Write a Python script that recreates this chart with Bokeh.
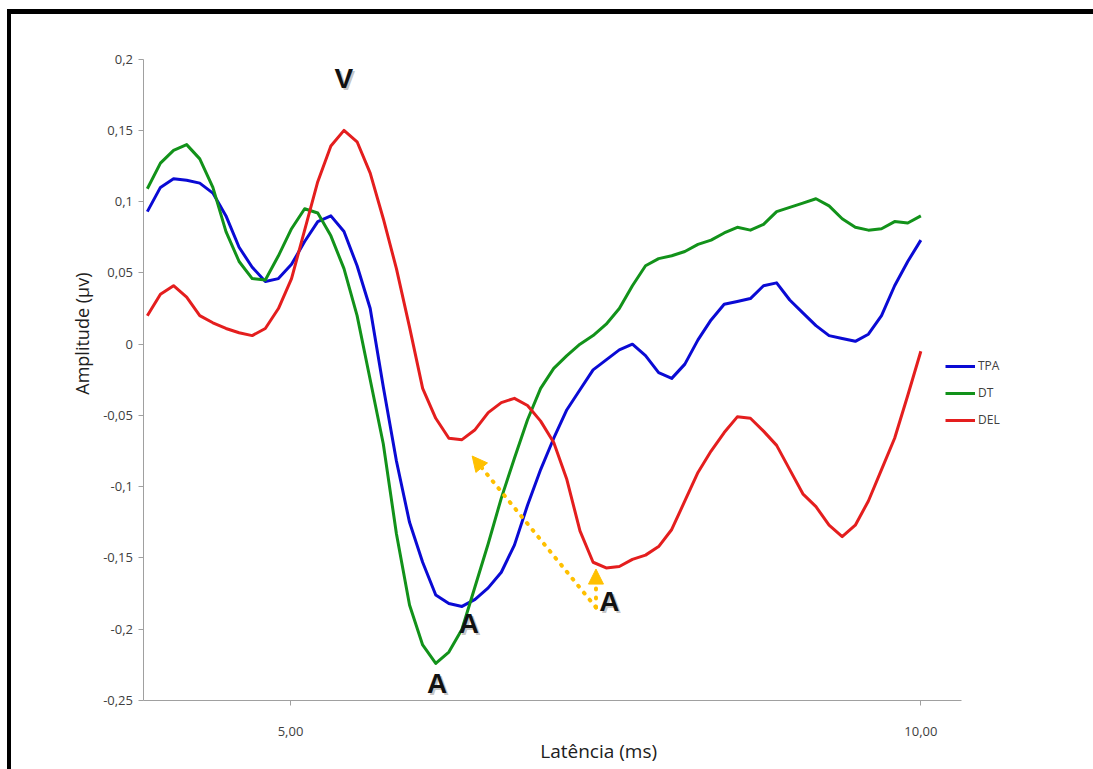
from bokeh.plotting import figure
from bokeh.models import (Range1d, FixedTicker, Legend, LegendItem, Label,
                          Arrow, NormalHead)
from bokeh.embed import file_html
from bokeh.resources import INLINE

# Latency grid (ms) and averaged amplitudes (uV) for the three groups
latency = [3.864, 3.968, 4.072, 4.176, 4.280, 4.384, 4.488, 4.592, 4.696, 4.800,
           4.904, 5.008, 5.112, 5.216, 5.320, 5.424, 5.528, 5.632, 5.736, 5.840,
           5.944, 6.048, 6.152, 6.256, 6.360, 6.464, 6.568, 6.672, 6.776, 6.880,
           6.984, 7.088, 7.192, 7.296, 7.400, 7.504, 7.608, 7.712, 7.816, 7.920,
           8.024, 8.128, 8.232, 8.336, 8.440, 8.544, 8.648, 8.752, 8.856, 8.960,
           9.064, 9.168, 9.272, 9.376, 9.480, 9.584, 9.688, 9.792, 9.896, 10.000]

tpa = [0.093, 0.110, 0.116, 0.115, 0.113, 0.106, 0.090, 0.068, 0.054, 0.044,
       0.046, 0.056, 0.072, 0.086, 0.090, 0.079, 0.055, 0.025, -0.030, -0.082,
       -0.125, -0.153, -0.176, -0.182, -0.184, -0.179, -0.171, -0.160, -0.141, -0.113,
       -0.088, -0.066, -0.046, -0.032, -0.018, -0.011, -0.004, 0.000, -0.008, -0.020,
       -0.024, -0.014, 0.003, 0.017, 0.028, 0.030, 0.032, 0.041, 0.043, 0.031,
       0.022, 0.013, 0.006, 0.004, 0.002, 0.007, 0.020, 0.041, 0.058, 0.073]

dt = [0.109, 0.127, 0.136, 0.140, 0.130, 0.110, 0.079, 0.058, 0.046, 0.045,
      0.062, 0.081, 0.095, 0.092, 0.076, 0.053, 0.020, -0.025, -0.070, -0.133,
      -0.183, -0.211, -0.224, -0.216, -0.200, -0.170, -0.140, -0.108, -0.080, -0.053,
      -0.031, -0.017, -0.008, 0.000, 0.006, 0.014, 0.025, 0.041, 0.055, 0.060,
      0.062, 0.065, 0.070, 0.073, 0.078, 0.082, 0.080, 0.084, 0.093, 0.096,
      0.099, 0.102, 0.097, 0.088, 0.082, 0.080, 0.081, 0.086, 0.085, 0.090]

dele = [0.020, 0.035, 0.041, 0.033, 0.020, 0.015, 0.011, 0.008, 0.006, 0.011,
        0.025, 0.046, 0.080, 0.114, 0.139, 0.150, 0.142, 0.120, 0.088, 0.053,
        0.012, -0.031, -0.052, -0.066, -0.067, -0.060, -0.048, -0.041, -0.038, -0.043,
        -0.054, -0.069, -0.095, -0.131, -0.153, -0.157, -0.156, -0.151, -0.148, -0.142,
        -0.130, -0.110, -0.090, -0.075, -0.062, -0.051, -0.052, -0.061, -0.071, -0.088,
        -0.105, -0.114, -0.127, -0.135, -0.127, -0.110, -0.088, -0.066, -0.036, -0.005]

series_names = ["TPA", "DT", "DEL"]
series_colors = ["#0a0ad4", "#12921a", "#e41e1e"]

x_ticks = [5, 10]
x_tick_labels = ["5,00", "10,00"]
y_ticks = [-0.25, -0.2, -0.15, -0.1, -0.05, 0, 0.05, 0.1, 0.15, 0.2]
y_tick_labels = ["-0,25", "-0,2", "-0,15", "-0,1", "-0,05", "0", "0,05", "0,1", "0,15", "0,2"]

# visible extent of the axes
x_axis_span = (3.8376, 10.326)
y_axis_span = (-0.25, 0.2)

FONT = "Open Sans"
TEXT_COLOR = "#404040"
AXIS_COLOR = "#a0a0a0"

# the frame fills the whole canvas; axes are pinned inside it so that the
# legend, titles and markers around the plot area are not clipped
p = figure(width=1086, height=760,
           x_range=Range1d(2.7866, 11.4013), y_range=Range1d(-0.30191, 0.23129),
           output_backend="svg", toolbar_location=None,
           min_border_left=0, min_border_right=0,
           min_border_top=0, min_border_bottom=0)
p.styles = {"border-top": "5px solid black", "border-left": "4px solid black",
            "margin-left": "7px", "margin-top": "9px"}
p.grid.visible = False
p.outline_line_color = None
p.background_fill_color = "white"
p.border_fill_color = "white"

xax, yax = p.xaxis[0], p.yaxis[0]
xax.fixed_location = y_axis_span[0]
xax.bounds = x_axis_span
yax.fixed_location = x_axis_span[0]
yax.bounds = y_axis_span

for ax in (xax, yax):
    ax.axis_line_color = AXIS_COLOR
    ax.major_tick_line_color = AXIS_COLOR
    ax.major_tick_in = 0
    ax.major_tick_out = 5
    ax.minor_tick_line_color = None
    ax.major_label_text_font = FONT
    ax.major_label_text_font_size = "13px"
    ax.major_label_text_color = TEXT_COLOR

xax.ticker = FixedTicker(ticks=x_ticks)
xax.major_label_overrides = dict(zip(x_ticks, x_tick_labels))
xax.major_label_standoff = 21
yax.ticker = FixedTicker(ticks=y_ticks)
yax.major_label_overrides = dict(zip(y_ticks, y_tick_labels))
yax.major_label_standoff = 6

renderers = []
for vals, col in zip([tpa, dt, dele], series_colors):
    r = p.line(latency, vals, line_color=col, line_width=3, line_join="round")
    renderers.append(r)

legend = Legend(items=[LegendItem(label=n, renderers=[r]) for n, r in zip(series_names, renderers)],
                location=(934, 346), orientation="vertical",
                border_line_color=None, background_fill_alpha=0,
                padding=0, margin=0, spacing=10,
                glyph_width=30, glyph_height=16, label_height=16, label_standoff=3,
                label_text_font=FONT, label_text_font_size="12px",
                label_text_color=TEXT_COLOR)
p.add_layout(legend)

# axis titles
p.add_layout(Label(x=7.444, y=-0.2855, text="Latência (ms)", text_font=FONT,
                   text_font_size="19px", text_color="#202020",
                   text_align="center", text_baseline="middle"))
p.add_layout(Label(x=3.344, y=0.0074, text="Amplitude (µv)", text_font=FONT,
                   text_font_size="18px", text_color="#202020", angle=1.5708,
                   text_align="center", text_baseline="middle"))

# wave markers, each with a soft drop shadow
peaks = [("V", 5.422, 0.1862), ("A", 6.415, -0.1958), ("A", 6.162, -0.2384), ("A", 7.529, -0.1803)]
for txt, px, py in peaks:
    p.add_layout(Label(x=px, y=py, text=txt, text_font="Liberation Sans",
                       text_font_style="bold", text_font_size="28px",
                       text_color="#808080", text_alpha=0.45,
                       x_offset=2, y_offset=-2,
                       text_align="center", text_baseline="middle"))
    p.add_layout(Label(x=px, y=py, text=txt, text_font="Liberation Sans",
                       text_font_style="bold", text_font_size="28px",
                       text_color="#111111", text_align="center",
                       text_baseline="middle"))

# dotted arrows from the DEL wave A label to its troughs
ARROW_COLOR = "#ffc000"
arrow_start = (7.423, -0.1847)
arrow_tips = [(6.441, -0.0785), (7.423, -0.1578)]
for tx, ty in arrow_tips:
    p.add_layout(Arrow(x_start=arrow_start[0], y_start=arrow_start[1], x_end=tx, y_end=ty,
                       line_color=ARROW_COLOR, line_width=4, line_dash="1 8",
                       line_cap="round",
                       end=NormalHead(size=15, fill_color=ARROW_COLOR,
                                      line_color=ARROW_COLOR, line_width=1)))

open("out.html", "w").write(file_html(p, INLINE))
